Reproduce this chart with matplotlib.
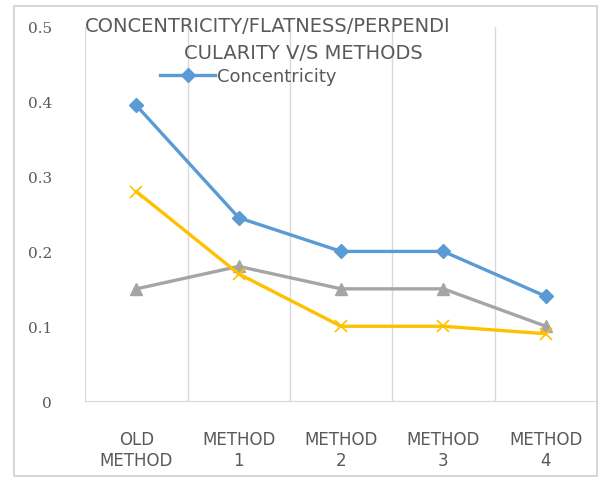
import matplotlib
matplotlib.use("Agg")
import matplotlib.pyplot as plt
from matplotlib.patches import Rectangle
from matplotlib.lines import Line2D

# data
methods = ["OLD\nMETHOD", "METHOD\n1", "METHOD\n2", "METHOD\n3", "METHOD\n4"]
concentricity = [0.395, 0.245, 0.20, 0.20, 0.14]
flatness = [0.28, 0.17, 0.10, 0.10, 0.09]
perpendicularity = [0.15, 0.18, 0.15, 0.15, 0.10]
y_ticks = [0, 0.1, 0.2, 0.3, 0.4, 0.5]
y_labels = ["0", "0.1", "0.2", "0.3", "0.4", "0.5"]

text_col = "#595959"
grid_col = "#D9D9D9"

fig = plt.figure(figsize=(6, 4.81), dpi=100)
ax = fig.add_axes([0.142, 0.164, 0.853, 0.778])

x = list(range(len(methods)))

# gray and yellow first so the blue line sits on top
ax.plot(x, perpendicularity, color="#A5A5A5", lw=2.4, marker="^", ms=9,
        label="Perpendicularity", zorder=3)
ax.plot(x, flatness, color="#FFC000", lw=2.4, marker="x", ms=9, mew=1.2,
        label="Flatness", zorder=3)
ax.plot(x, concentricity, color="#5B9BD5", lw=2.4, marker="D", ms=7,
        label="Concentricity", zorder=4)

ax.set_xlim(-0.5, len(methods) - 0.5)
ax.set_ylim(0, 0.5)

# vertical gridlines at the category borders
for b in range(len(methods) + 1):
    ax.axvline(b - 0.5, color=grid_col, lw=1, zorder=1)

ax.set_xticks(x)
ax.set_xticklabels(methods, fontsize=12, color=text_col, family="DejaVu Sans",
                   linespacing=1.2)
ax.set_yticks(y_ticks)
ax.set_yticklabels(y_labels, fontsize=11, color=text_col, family="DejaVu Serif")
ax.tick_params(axis="both", length=0)
ax.tick_params(axis="x", pad=21)
ax.tick_params(axis="y", pad=24)

for side in ["top", "right", "left"]:
    ax.spines[side].set_visible(False)
ax.spines["bottom"].set_color(grid_col)

# title sits inside the plot area
ax.text(0.0, 1.005, "CONCENTRICITY/FLATNESS/PERPENDI", transform=ax.transAxes,
        fontsize=14, color=text_col, ha="left", va="center",
        family="DejaVu Sans")
ax.text(0.426, 0.932, "CULARITY V/S METHODS", transform=ax.transAxes,
        fontsize=14, color=text_col, ha="center", va="center",
        family="DejaVu Sans")

# only the first legend entry shows in the reference
handle = Line2D([], [], color="#5B9BD5", lw=2.4, marker="D", ms=7)
ax.legend([handle], ["Concentricity"], loc="center left",
          bbox_to_anchor=(0.133, 0.868), frameon=False, fontsize=13,
          handlelength=3.0, handletextpad=0.15, labelcolor=text_col,
          borderaxespad=0)

# outer chart border
fig.patches.append(Rectangle((14 / 600, 4 / 481), 583 / 600, 470 / 481,
                             transform=fig.transFigure, fill=False,
                             edgecolor="#D0D0D0", lw=1.2))

fig.savefig("out.png", dpi=100)
